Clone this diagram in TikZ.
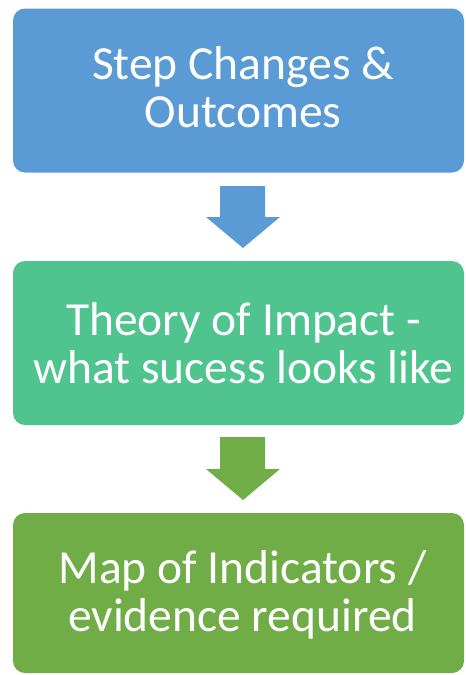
\documentclass[tikz,border=0pt]{standalone}
\usepackage{fontspec}
\setmainfont{Carlito}
\definecolor{boxblue}{HTML}{5B9BD5}
\definecolor{boxmint}{HTML}{50C48E}
\definecolor{boxgreen}{HTML}{70AD47}
\tikzset{
  stage/.style={rounded corners=12pt, minimum width=451pt, minimum height=164pt, inner sep=0pt},
  caption/.style={text=white, align=center, inner sep=0pt, font=\fontsize{47.5}{48}\selectfont},
}
\begin{document}
\begin{tikzpicture}[x=1pt,y=-1pt]
\useasboundingbox (0,0) rectangle (466,675);
% the three stages
\node[stage, fill=boxblue] (changes) at (238.5,90.5) {};
\node[stage, fill=boxmint] (theory) at (238.5,343) {};
\node[stage, fill=boxgreen, minimum height=160pt] (indicators) at (238.5,593) {};
\node[caption] (changestext) at ([xshift=4.5pt,yshift=3pt]changes.center) {Step Changes \&\\Outcomes};
\node[caption] (theorytext) at ([xshift=5pt]theory.center) {Theory of Impact -\\what sucess looks like};
\node[caption] (indicatorstext) at ([xshift=4pt,yshift=-2pt]indicators.center) {Map of Indicators /\\evidence required};
% block arrows between them
\fill[boxblue] (220,186) -- ++(45,0) -- ++(0,31) -- ++(15,0) -- (243,248) -- (206,217) -- ++(14,0) -- cycle;
\fill[boxgreen] (220,437) -- ++(45,0) -- ++(0,32) -- ++(15,0) -- (243,500) -- (206,469) -- ++(14,0) -- cycle;
\end{tikzpicture}
\end{document}
